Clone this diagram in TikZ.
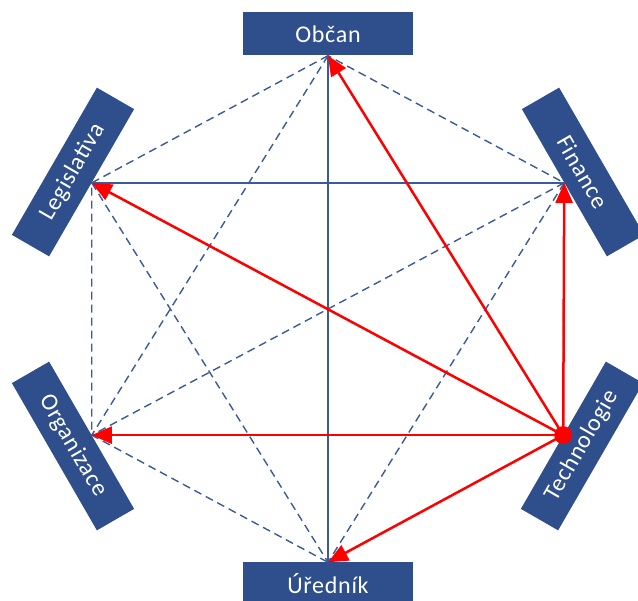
\documentclass[tikz,border=0pt]{standalone}
\usepackage{fontspec}
\setmainfont{Carlito}[LetterSpace=3]
\usetikzlibrary{arrows.meta}
\definecolor{boxblue}{HTML}{2F4F8C}
\definecolor{lineblue}{HTML}{3B5A98}
\tikzset{
  box/.style={fill=boxblue, text=white, minimum width=170pt, minimum height=43pt,
    inner sep=0pt, font=\fontsize{24}{30}\selectfont},
  solidline/.style={draw=lineblue, line width=1.4pt},
  dashline/.style={draw=lineblue, line width=1.4pt, dash pattern=on 8pt off 5pt},
  redarrow/.style={draw=red, line width=2.5pt, -{Triangle[length=20pt,width=17pt]}},
}
\begin{document}
\begin{tikzpicture}[x=1pt,y=-1pt]
  \useasboundingbox (0,0) rectangle (638,601);
  % the six boxes
  \node [box] (obcan) at (328,34) {Občan};
  \node [box] (urednik) at (328,584) {Úředník};
  \node [box, rotate=60] (legis) at (73,172) {Legislativa};
  \node [box, rotate=-60] (fin) at (583,172) {Finance};
  \node [box, rotate=-60] (org) at (73,446) {Organizace};
  \node [box, rotate=60] (tech) at (582,446) {Technologie};
  % solid lines
  \path [solidline] (obcan.south) -- (urednik.north);
  \path [solidline] (legis.south) -- (fin.south);
  \path [solidline] (org.north) -- (tech.north);
  % dashed lines
  \path [dashline] (obcan.south) -- (legis.south) -- (org.north) -- (urednik.north)
    -- (tech.north) -- (fin.south) -- cycle;
  \path [dashline] (obcan.south) -- (org.north);
  \path [dashline] (obcan.south) -- (tech.north);
  \path [dashline] (legis.south) -- (urednik.north);
  \path [dashline] (legis.south) -- (tech.north);
  \path [dashline] (fin.south) -- (org.north);
  \path [dashline] (fin.south) -- (urednik.north);
  % red arrows
  \path [redarrow] (tech.north) -- (obcan.south);
  \path [redarrow] (tech.north) -- (fin.south);
  \path [redarrow] (tech.north) -- (legis.south);
  \path [redarrow] (tech.north) -- (org.north);
  \path [redarrow] (tech.north) -- (urednik.north);
  \node [circle, fill=red, minimum size=18pt, inner sep=0pt] (dot) at (tech.north) {};
\end{tikzpicture}
\end{document}
